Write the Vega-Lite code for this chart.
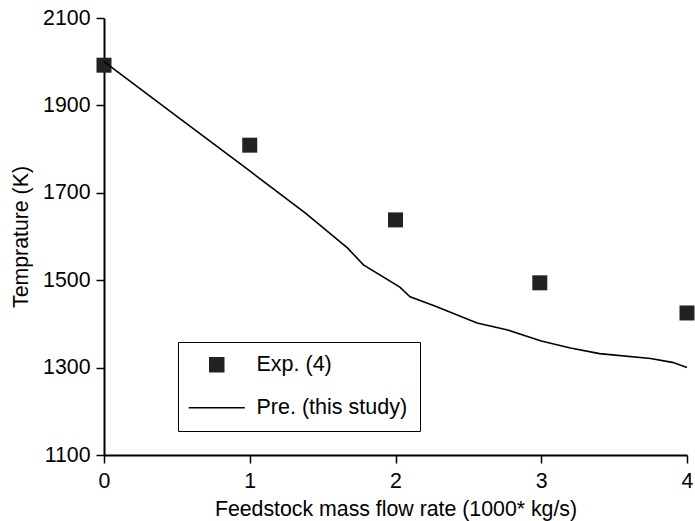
{
  "$schema": "https://vega.github.io/schema/vega-lite/v6.json",
  "width": 583,
  "height": 437,
  "autosize": {"type": "none"},
  "padding": {"left": 104, "top": 18, "right": 8, "bottom": 66},
  "background": "white",
  "config": {
    "view": {"stroke": null},
    "font": "Liberation Sans",
    "axis": {
      "grid": false,
      "domainColor": "black",
      "domainWidth": 2,
      "tickColor": "black",
      "tickWidth": 1.5,
      "tickSize": 8,
      "labelFont": "Liberation Sans",
      "labelFontSize": 21.3,
      "labelColor": "black",
      "titleFont": "Liberation Sans",
      "titleFontSize": 21.3,
      "titleFontWeight": "normal",
      "titleColor": "black"
    }
  },
  "datasets": {
    "exp": [
      {"x": 0, "y": 1992, "series": "Exp. (4)"},
      {"x": 1, "y": 1809, "series": "Exp. (4)"},
      {"x": 2, "y": 1638, "series": "Exp. (4)"},
      {"x": 2.99, "y": 1494, "series": "Exp. (4)"},
      {"x": 4, "y": 1425, "series": "Exp. (4)"}
    ],
    "pre": [
      {"x": 0, "y": 2000, "series": "Pre. (this study)"},
      {"x": 0.5, "y": 1875, "series": "Pre. (this study)"},
      {"x": 1, "y": 1750, "series": "Pre. (this study)"},
      {"x": 1.38, "y": 1654, "series": "Pre. (this study)"},
      {"x": 1.67, "y": 1574, "series": "Pre. (this study)"},
      {"x": 1.78, "y": 1535, "series": "Pre. (this study)"},
      {"x": 2.03, "y": 1484, "series": "Pre. (this study)"},
      {"x": 2.1, "y": 1462, "series": "Pre. (this study)"},
      {"x": 2.27, "y": 1441, "series": "Pre. (this study)"},
      {"x": 2.56, "y": 1402, "series": "Pre. (this study)"},
      {"x": 2.65, "y": 1395, "series": "Pre. (this study)"},
      {"x": 2.77, "y": 1386, "series": "Pre. (this study)"},
      {"x": 3, "y": 1361, "series": "Pre. (this study)"},
      {"x": 3.2, "y": 1345, "series": "Pre. (this study)"},
      {"x": 3.4, "y": 1332, "series": "Pre. (this study)"},
      {"x": 3.75, "y": 1321, "series": "Pre. (this study)"},
      {"x": 3.9, "y": 1312, "series": "Pre. (this study)"},
      {"x": 4, "y": 1300, "series": "Pre. (this study)"}
    ]
  },
  "resolve": {"scale": {"color": "shared", "shape": "shared"}, "legend": {"color": "shared", "shape": "shared"}},
  "layer": [
    {
      "data": {"name": "exp"},
      "mark": {"type": "point", "filled": true, "opacity": 1, "size": 225},
      "encoding": {
        "x": {"field": "x", "type": "quantitative"},
        "y": {"field": "y", "type": "quantitative"},
        "color": {
          "field": "series", "type": "nominal",
          "scale": {"domain": ["Exp. (4)", "Pre. (this study)"], "range": ["#222222", "#000000"]},
          "legend": {
            "title": null,
            "orient": "none",
            "legendX": 74,
            "legendY": 324,
            "padding": 12,
            "symbolOffset": 16,
            "symbolSize": 196,
            "labelOffset": 29,
            "rowPadding": 20,
            "labelFont": "Liberation Sans",
            "labelFontSize": 21.5,
            "labelColor": "black",
            "strokeColor": "black",
            "fillColor": "white",
            "encode": {
              "symbols": {"stroke": {"value": "black"}, "strokeWidth": {"value": 1.5}, "opacity": {"value": 1}}
            }
          }
        },
        "shape": {
          "field": "series", "type": "nominal",
          "scale": {"domain": ["Exp. (4)", "Pre. (this study)"], "range": ["square", "M-4,0L4,0"]},
          "legend": {
            "title": null,
            "orient": "none",
            "legendX": 74,
            "legendY": 324
          }
        }
      }
    },
    {
      "data": {"name": "pre"},
      "mark": {"type": "line", "strokeWidth": 1.6},
      "encoding": {
        "x": {
          "field": "x", "type": "quantitative",
          "scale": {"domain": [0, 4], "nice": false, "zero": false},
          "axis": {"values": [0, 1, 2, 3, 4], "title": "Feedstock mass flow rate (1000* kg/s)", "labelPadding": 7, "titlePadding": 7, "labelFlush": false, "format": "d"}
        },
        "y": {
          "field": "y", "type": "quantitative",
          "scale": {"domain": [1100, 2100], "nice": false, "zero": false},
          "axis": {"values": [1100, 1300, 1500, 1700, 1900, 2100], "title": "Temprature (K)", "labelPadding": 6, "titlePadding": 11, "format": "d"}
        },
        "color": {"field": "series", "type": "nominal"}
      }
    }
  ]
}
